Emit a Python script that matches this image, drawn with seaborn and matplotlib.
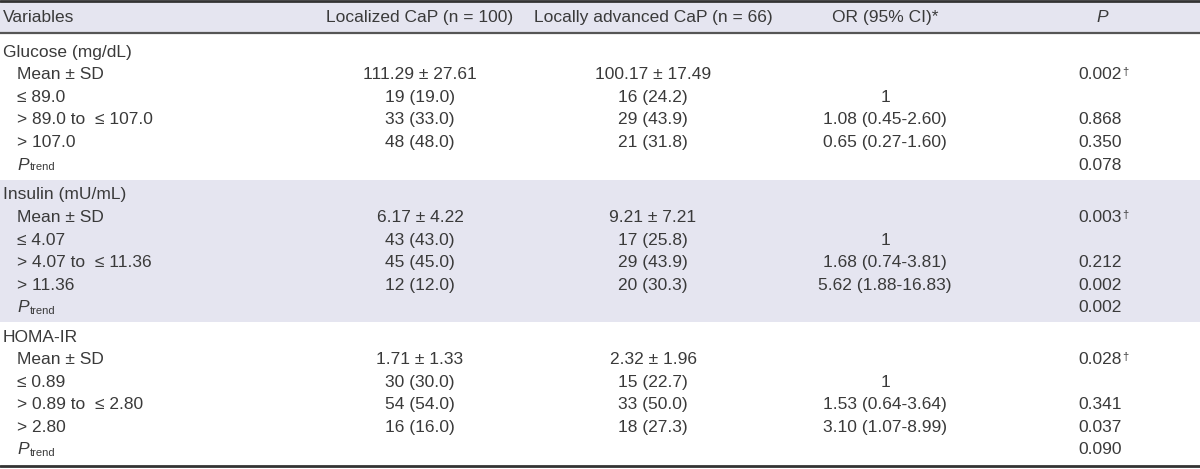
import seaborn as sns
import matplotlib.pyplot as plt

# table content
headers = ["Variables", "Localized CaP (n = 100)", "Locally advanced CaP (n = 66)", "OR (95% CI)*", "P"]
sections = ["Glucose (mg/dL)", "Insulin (mU/mL)", "HOMA-IR"]
row_labels = [
    ["Mean \u00b1 SD", "\u2264 89.0", "> 89.0 to  \u2264 107.0", "> 107.0", "P"],
    ["Mean \u00b1 SD", "\u2264 4.07", "> 4.07 to  \u2264 11.36", "> 11.36", "P"],
    ["Mean \u00b1 SD", "\u2264 0.89", "> 0.89 to  \u2264 2.80", "> 2.80", "P"],
]
localized = [
    ["111.29 \u00b1 27.61", "19 (19.0)", "33 (33.0)", "48 (48.0)", ""],
    ["6.17 \u00b1 4.22", "43 (43.0)", "45 (45.0)", "12 (12.0)", ""],
    ["1.71 \u00b1 1.33", "30 (30.0)", "54 (54.0)", "16 (16.0)", ""],
]
advanced = [
    ["100.17 \u00b1 17.49", "16 (24.2)", "29 (43.9)", "21 (31.8)", ""],
    ["9.21 \u00b1 7.21", "17 (25.8)", "29 (43.9)", "20 (30.3)", ""],
    ["2.32 \u00b1 1.96", "15 (22.7)", "33 (50.0)", "18 (27.3)", ""],
]
odds_ratio = [
    ["", "1", "1.08 (0.45-2.60)", "0.65 (0.27-1.60)", ""],
    ["", "1", "1.68 (0.74-3.81)", "5.62 (1.88-16.83)", ""],
    ["", "1", "1.53 (0.64-3.64)", "3.10 (1.07-8.99)", ""],
]
p_values = [
    ["0.002", "", "0.868", "0.350", "0.078"],
    ["0.003", "", "0.212", "0.002", "0.002"],
    ["0.028", "", "0.341", "0.037", "0.090"],
]
dagger_rows = [0]  # Mean ± SD rows carry a dagger on P

sns.set_theme(style="white")
plt.rcParams['font.family'] = ['Liberation Sans Narrow', 'Liberation Sans', 'DejaVu Sans']

W, H = 1200, 469
fig = plt.figure(figsize=(12, 4.69), dpi=100)
ax = fig.add_axes([0, 0, 1, 1])
ax.set_xlim(0, W)
ax.set_ylim(H, 0)
ax.axis('off')

band = '#e5e5f0'
txt = '#3a3a3a'
fs = 12.5

# header
ax.axhspan(1.5, 33, color=band, lw=0)
ax.axhline(1.5, color='#333333', lw=2)
ax.axhline(33, color='#555555', lw=1.6)
ax.axhline(466, color='#333333', lw=2)

col_x = [3, 420, 653, 885, 1102]
for i, h in enumerate(headers):
    ha = 'left' if i == 0 else 'center'
    style = 'italic' if h == "P" else 'normal'
    ax.text(col_x[i], 17.5, h, ha=ha, va='center', fontsize=fs, color=txt, style=style)

pitch = 22.6
sec_top = [37, 180, 322]
for s, name in enumerate(sections):
    top = sec_top[s]
    if s == 1:
        ax.axhspan(top, top + 142, color=band, lw=0)
    y0 = top + 15
    ax.text(3, y0, name, ha='left', va='center', fontsize=fs, color=txt)
    for r in range(5):
        y = y0 + (r + 1) * pitch
        lab = row_labels[s][r]
        if r == 4:
            t = ax.text(17, y, "P", ha='left', va='center', fontsize=fs, color=txt, style='italic')
            ax.annotate("trend", xy=(1, 0), xycoords=t, xytext=(0.5, 0), textcoords='offset points',
                        ha='left', va='bottom', fontsize=8, color=txt)
        else:
            ax.text(17, y, lab, ha='left', va='center', fontsize=fs, color=txt)
        ax.text(col_x[1], y, localized[s][r], ha='center', va='center', fontsize=fs, color=txt)
        ax.text(col_x[2], y, advanced[s][r], ha='center', va='center', fontsize=fs, color=txt)
        ax.text(col_x[3], y, odds_ratio[s][r], ha='center', va='center', fontsize=fs, color=txt)
        if p_values[s][r]:
            t = ax.text(1078, y, p_values[s][r], ha='left', va='center', fontsize=fs, color=txt)
            if r in dagger_rows:
                ax.annotate("\u2020", xy=(1, 1), xycoords=t, xytext=(0.5, 0), textcoords='offset points',
                            ha='left', va='top', fontsize=8, color=txt)

fig.savefig('out.png', dpi=100)
